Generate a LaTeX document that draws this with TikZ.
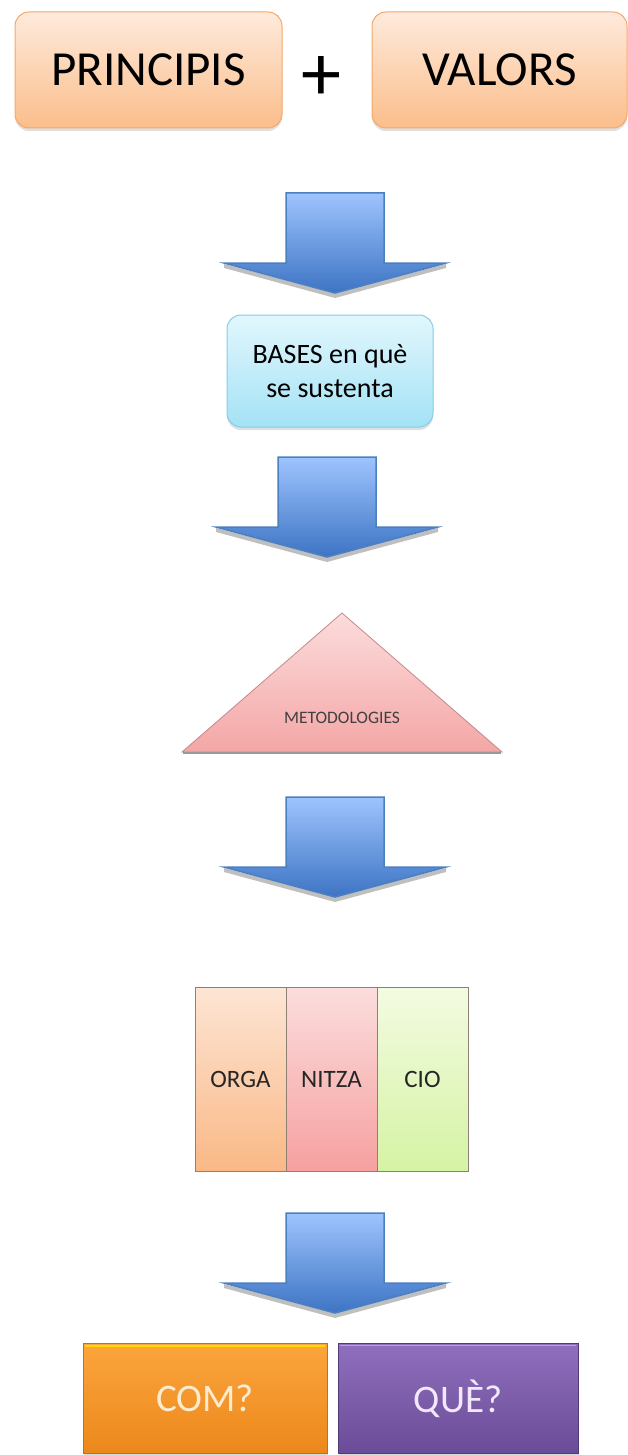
\documentclass[tikz,border=0pt]{standalone}
\usepackage{fontspec}
\setmainfont{Carlito}
\usetikzlibrary{positioning,shadows,calc}

\definecolor{peachtop}{HTML}{FEEADC}
\definecolor{peachbot}{HTML}{FBBE8B}
\definecolor{peachline}{HTML}{F5A868}
\definecolor{skytop}{HTML}{E2F7FD}
\definecolor{skybot}{HTML}{A4E2F5}
\definecolor{skyline}{HTML}{86CDE6}
\definecolor{arrowtop}{HTML}{9EC4FE}
\definecolor{arrowbot}{HTML}{3D74C4}
\definecolor{arrowline}{HTML}{4B7FC0}
\definecolor{tritop}{HTML}{FCDCDC}
\definecolor{tribot}{HTML}{F4A6A6}
\definecolor{triline}{HTML}{C48A8A}
\definecolor{orgatop}{HTML}{FDE5D4}
\definecolor{orgabot}{HTML}{FAB886}
\definecolor{nitzatop}{HTML}{FBDDDD}
\definecolor{nitzabot}{HTML}{F6A0A0}
\definecolor{ciotop}{HTML}{F3FBE2}
\definecolor{ciobot}{HTML}{D5F3A4}
\definecolor{partline}{HTML}{8E8072}
\definecolor{comtop}{HTML}{FBA53C}
\definecolor{combot}{HTML}{EC881C}
\definecolor{comline}{HTML}{C47114}
\definecolor{comtext}{HTML}{FBEBD0}
\definecolor{quetop}{HTML}{9070BE}
\definecolor{quebot}{HTML}{6A4B97}
\definecolor{queline}{HTML}{523A78}
\definecolor{quetext}{HTML}{F2E8FA}

\begin{document}
\begin{tikzpicture}[x=1pt,y=-1pt,
    every node/.style={outer sep=0pt,inner sep=0pt},
    value box/.style={rounded corners=14pt,draw=peachline,line width=1pt,
      top color=peachtop,bottom color=peachbot,minimum height=116pt,
      font=\fontsize{49}{55}\selectfont,
      drop shadow={opacity=0.25,shadow xshift=0pt,shadow yshift=-3pt}},
    base box/.style={rounded corners=14pt,draw=skyline,line width=1pt,
      top color=skytop,bottom color=skybot,minimum width=206pt,minimum height=112pt,
      align=center,font=\fontsize{28}{34}\selectfont,
      drop shadow={opacity=0.25,shadow xshift=0pt,shadow yshift=-3pt}},
    part box/.style={draw=partline,line width=1pt,minimum width=91pt,minimum height=184pt,
      text=black!85,font=\fontsize{25}{30}\selectfont},
    answer box/.style={line width=1pt,minimum height=110pt,
      font=\fontsize{39}{44}\selectfont,
      drop shadow={opacity=0.3,shadow xshift=1pt,shadow yshift=-2pt}}]

  \useasboundingbox (0,0) rectangle (628,1455);

  % first row
  \node[value box,minimum width=267pt] (principis) at (148.5,70) {PRINCIPIS};
  \node[font=\fontsize{80}{80}\selectfont] (plus) at (321,79) {+};
  \node[value box,minimum width=255pt] (valors) at (499.5,70) {VALORS};

  % block arrows
  \foreach \ax/\ay in {335/193,327/457,335/797,335/1213} {
    \fill[black!25] (\ax-111,\ay+75) -- (\ax,\ay+105) -- (\ax+111,\ay+75) -- (\ax+111,\ay+71) -- (\ax,\ay+100) -- (\ax-111,\ay+71) -- cycle;
    \path[top color=arrowtop,bottom color=arrowbot,draw=arrowline,line width=1.5pt]
      (\ax-49,\ay) -- (\ax+49,\ay) -- (\ax+49,\ay+70) -- (\ax+111,\ay+70)
      -- (\ax,\ay+100) -- (\ax-111,\ay+70) -- (\ax-49,\ay+70) -- cycle;
  }

  \node[base box] (bases) at (330,371) {BASES en què\\se sustenta};

  % triangle
  \path[top color=tritop,bottom color=tribot,draw=triline,line width=0.8pt]
    (182,752) -- (342,613) -- (502,752) -- cycle;
  \draw[black!40,line width=1.2pt] (183,753) -- (501,753);
  \node[text=black!75,font=\fontsize{17.5}{20}\selectfont] (metodes) at (342,718) {METODOLOGIES};

  % three parts
  \node[part box,top color=orgatop,bottom color=orgabot] (orga) at (240.5,1079) {ORGA};
  \node[part box,top color=nitzatop,bottom color=nitzabot] (nitza) [right=0pt of orga] {NITZA};
  \node[part box,top color=ciotop,bottom color=ciobot] (cio) [right=0pt of nitza] {CIO};

  % answers
  \node[answer box,minimum width=244pt,draw=comline,top color=comtop,bottom color=combot,text=comtext] (com) at (205,1398.5) {COM?};
  \node[answer box,minimum width=240pt,draw=queline,top color=quetop,bottom color=quebot,text=quetext] (que) [right=11pt of com] {QUÈ?};
  \draw[yellow!80!orange,line width=2pt] ($(com.north west)+(2,2)$) -- ($(com.north east)+(-2,2)$);
  \draw[violet!40!white,line width=1.5pt] ($(que.north west)+(2,2)$) -- ($(que.north east)+(-2,2)$);
\end{tikzpicture}
\end{document}
